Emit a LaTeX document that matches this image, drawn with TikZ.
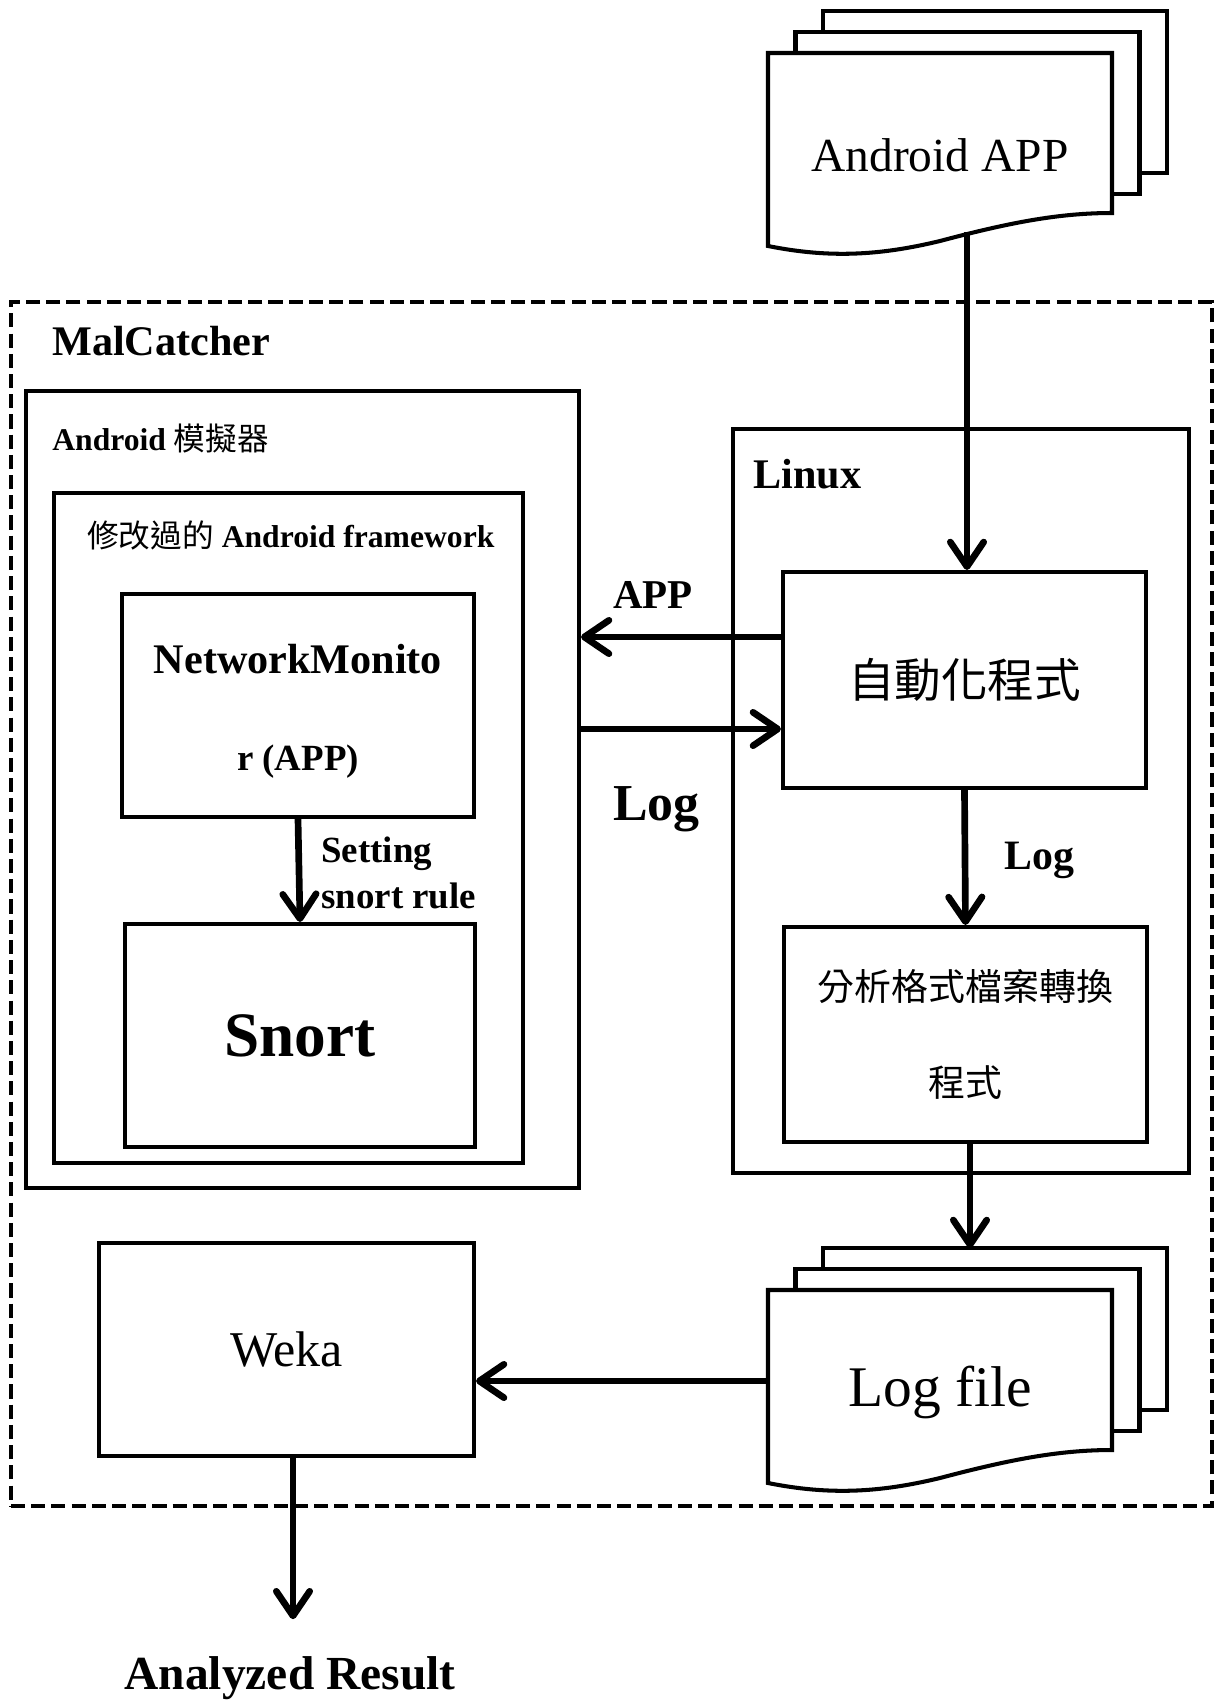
\documentclass[tikz,border=0pt]{standalone}
\usepackage{fontspec}
\setmainfont{Liberation Serif}
\newfontfamily\cjk{Noto Sans CJK TC}
\usetikzlibrary{arrows.meta,positioning,calc}

% stack of three pages with a wavy front page
\newcommand{\docstack}[3]{%
  \begin{scope}[shift={#2}]
    \foreach \k in {2,1}
      \draw[page] (-3.44+0.55*\k,1.92+0.42*\k) rectangle ++(6.88,-3.24);
    \draw[page] (-3.44,1.92) -- (3.44,1.92) -- (3.44,-1.28)
      .. controls (2.36,-1.28) and (1.36,-1.48) .. (0,-1.84)
      .. controls (-1.24,-2.14) and (-2.24,-2.18) .. (-3.44,-1.94) -- cycle;
  \end{scope}
  \node[doctext, yshift=-0.12cm] (#1) at #2 {#3};
}

\begin{document}
\begin{tikzpicture}[
  box/.style={rectangle, draw=black, line width=2.3pt, inner sep=0pt},
  page/.style={draw=black, line width=2.3pt, fill=white},
  doctext/.style={inner sep=0pt, minimum width=6.88cm, minimum height=3.86cm},
  lbl/.style={inner sep=0pt, anchor=base west},
  line/.style={-{Straight Barb[length=14pt, width=19pt, round]}, line width=3.8pt}
]
\useasboundingbox (0,0) rectangle (24.32,-34);

% containers
\node[box, line width=2.8pt, dash pattern=on 8pt off 3.5pt, minimum width=24.02cm, minimum height=24.08cm] (mal) at (12.23,-18.08) {};
\node[box, minimum width=11.06cm, minimum height=15.94cm] (emu) at (6.05,-15.79) {};
\node[box, minimum width=9.38cm, minimum height=13.4cm] (fw) at (5.77,-16.56) {};
\node[box, minimum width=9.12cm, minimum height=14.88cm] (linux) at (19.22,-16.02) {};

\node[lbl, font=\bfseries\fontsize{24}{28}\selectfont] (malname) at (1.04,-7.1) {MalCatcher};
\node[lbl, font=\fontsize{18}{22}\selectfont] (emuname) at (1.04,-9.0) {\textbf{Android} {\cjk 模擬器}};
\node[lbl, font=\fontsize{18}{22}\selectfont] (fwname) at (1.74,-10.94) {{\cjk 修改過的} \textbf{Android framework}};
\node[lbl, font=\bfseries\fontsize{24}{28}\selectfont] (linuxname) at (15.06,-9.76) {Linux};

% inner blocks
\node[box, minimum width=7.04cm, minimum height=4.46cm, align=center, font=\bfseries\fontsize{24}{55}\selectfont] (netmon) at (5.96,-14.11) {\rule{0pt}{0.82cm}NetworkMonito\\{\fontsize{21}{55}\selectfont r (APP)}};
\node[box, minimum width=7.0cm, minimum height=4.46cm, font=\bfseries\fontsize{36}{40}\selectfont] (snort) at (6.0,-20.71) {Snort};
\node[box, minimum width=7.26cm, minimum height=4.32cm, font=\cjk\fontsize{26.5}{30}\selectfont] (auto) at (19.29,-13.6) {自動化程式};
\node[box, minimum width=7.26cm, minimum height=4.30cm, align=center, font=\cjk\fontsize{21}{55}\selectfont] (conv) at (19.31,-20.69) {分析格式檔案轉換\\程式};
\node[box, minimum width=7.5cm, minimum height=4.26cm, font=\fontsize{28.5}{32}\selectfont] (weka) at (5.73,-26.99) {Weka};

% documents
\docstack{app}{(18.8,-2.98)}{\fontsize{27}{30}\selectfont Android APP}
\docstack{logf}{(18.8,-27.72)}{\fontsize{32.7}{36}\selectfont Log file}

\node[font=\bfseries\fontsize{27}{30}\selectfont] (result) at (5.8,-33.56) {Analyzed Result};

% labels on connectors
\node[lbl, font=\bfseries\fontsize{21}{25}\selectfont] (setlbl) at (6.42,-17.24) {Setting};
\node[lbl, font=\bfseries\fontsize{21}{25}\selectfont] (rulelbl) at (6.42,-18.16) {snort rule};
\node[lbl, font=\bfseries\fontsize{23.3}{27}\selectfont] (applbl) at (12.26,-12.16) {APP};
\node[lbl, font=\bfseries\fontsize{29.5}{33}\selectfont] (loglbl) at (12.26,-16.4) {Log};
\node[lbl, font=\bfseries\fontsize{23.8}{27}\selectfont] (log2lbl) at (20.08,-17.38) {Log};

\coordinate (appout) at (19.34,-4.64);
\coordinate (login) at (19.4,-24.96);

% connectors
\draw[line] (appout) -- (appout |- auto.north);
\draw[line] ($(auto.west)+(0,0.86)$) -- ($(emu.east |- auto.west)+(0,0.86)$);
\draw[line] ($(emu.east |- auto.west)+(0,-0.98)$) -- ($(auto.west)+(0,-0.98)$);
\draw[line] (auto.south) -- (conv.north);
\draw[line] (conv.south -| login) -- (login);
\draw[line] (netmon.south) -- (snort.north);
\draw[line] ($(logf.west)+(0,0.22)$) -- ($(weka.east |- logf.west)+(0,0.22)$);
\draw[line] ($(weka.south)+(0.13,0)$) -- ($(weka.south |- result.north)+(0.13,0.62)$);
\end{tikzpicture}
\end{document}
